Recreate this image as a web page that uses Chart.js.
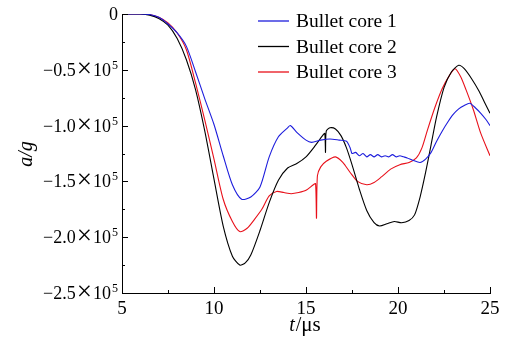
<!DOCTYPE html>
<html>
<head>
<meta charset="utf-8">
<script src="https://cdn.jsdelivr.net/npm/chart.js@4/dist/chart.umd.min.js"></script>
<style>
  html, body { margin: 0; padding: 0; background: #fff; }
  #wrap { width: 508px; height: 339px; position: relative; }
</style>
</head>
<body>
<div id="wrap"><canvas id="chart"></canvas></div>
<script>
// Datos (a en unidades de 10^5 g, t en µs)
const etiquetas = ['Bullet core 1', 'Bullet core 2', 'Bullet core 3'];
const colores = ['#1c1cdc', '#000000', '#e8101a'];

const nucleo1_t = [5, 6, 6.5, 7, 7.5, 8, 8.5, 9, 9.5, 10, 10.5, 11, 11.5, 12, 12.5, 13, 13.5, 14, 14.15, 14.5, 15, 15.3, 15.8, 16.3, 16.8, 17.2, 17.4, 17.5, 17.7, 17.9, 18.1, 18.3, 18.5, 18.7, 18.9, 19.1, 19.3, 19.5, 19.7, 19.9, 20.1, 20.3, 20.5, 20.8, 21.2, 21.5, 21.8, 22.1, 22.4, 22.7, 23, 23.3, 23.6, 23.9, 24.2, 24.5, 24.8, 25];
const nucleo1_a = [0, 0, -0.005, -0.03, -0.09, -0.17, -0.29, -0.52, -0.76, -0.99, -1.27, -1.53, -1.66, -1.64, -1.55, -1.28, -1.1, -1.02, -1.0, -1.06, -1.13, -1.15, -1.13, -1.12, -1.13, -1.14, -1.2, -1.25, -1.24, -1.27, -1.25, -1.28, -1.26, -1.28, -1.26, -1.28, -1.27, -1.28, -1.26, -1.28, -1.27, -1.28, -1.29, -1.31, -1.33, -1.3, -1.24, -1.14, -1.05, -0.97, -0.9, -0.85, -0.82, -0.8, -0.84, -0.89, -0.95, -1.0];

const nucleo2_t = [5, 6, 6.5, 7, 7.5, 8, 8.5, 9, 9.5, 10, 10.5, 11, 11.4, 11.7, 12, 12.5, 13, 13.5, 14, 14.5, 15, 15.5, 15.9, 16.02, 16.06, 16.1, 16.3, 16.6, 16.9, 17.2, 17.5, 17.9, 18.3, 18.7, 19, 19.4, 19.8, 20.2, 20.6, 20.9, 21.2, 21.5, 21.8, 22.1, 22.5, 22.9, 23.3, 23.6, 24, 24.4, 24.7, 25];
const nucleo2_a = [0, 0, -0.01, -0.04, -0.1, -0.22, -0.41, -0.68, -1.05, -1.48, -1.9, -2.17, -2.25, -2.23, -2.16, -1.94, -1.69, -1.49, -1.38, -1.34, -1.28, -1.18, -1.09, -1.07, -1.24, -1.05, -1.02, -1.03, -1.09, -1.2, -1.35, -1.57, -1.76, -1.87, -1.9, -1.88, -1.86, -1.87, -1.85, -1.8, -1.64, -1.42, -1.17, -0.92, -0.66, -0.52, -0.46, -0.49, -0.58, -0.69, -0.79, -0.89];

const nucleo3_t = [5, 6, 6.5, 7, 7.5, 8, 8.5, 9, 9.5, 10, 10.5, 11, 11.4, 11.8, 12.2, 12.6, 13, 13.4, 13.8, 14.2, 14.6, 15, 15.4, 15.52, 15.57, 15.62, 15.8, 16.1, 16.6, 17, 17.4, 17.8, 18.3, 18.7, 19.1, 19.6, 20.1, 20.6, 21, 21.3, 21.6, 22, 22.4, 22.8, 23.1, 23.4, 23.7, 24.1, 24.5, 25];
const nucleo3_a = [0, 0, -0.005, -0.03, -0.08, -0.17, -0.32, -0.62, -0.95, -1.3, -1.66, -1.86, -1.95, -1.92, -1.84, -1.75, -1.63, -1.59, -1.6, -1.61, -1.6, -1.58, -1.53, -1.52, -1.83, -1.45, -1.37, -1.32, -1.28, -1.33, -1.42, -1.5, -1.53, -1.51, -1.46, -1.39, -1.35, -1.33, -1.29, -1.2, -1.04, -0.84, -0.67, -0.55, -0.49, -0.56, -0.68, -0.86, -1.07, -1.27];

const ticksX = [5, 10, 15, 20, 25];
const ticksY = [0, -0.5, -1.0, -1.5, -2.0, -2.5];

const fuente = "'Liberation Serif'";

function puntos(t, a) {
    return t.map((v, i) => ({ x: v, y: a[i] }));
}

// Etiqueta del eje Y tipo "−0.5×10⁵", dibujada por piezas y alineada a la derecha
function etiquetaY(ctx, v, xDer, y) {
    const piezas = v === 0
        ? [['0', 18, 0, 0]]
        : [['−', 18, 0, 0], [Math.abs(v).toFixed(1), 18, 0, 1], ['×', 27, 1, 1], ['10', 18, 0, 1], ['5', 12, -7, 0]];
    let total = 0;
    piezas.forEach(p => { ctx.font = p[1] + 'px ' + fuente; total += ctx.measureText(p[0]).width + p[3]; });
    let x = xDer - total;
    piezas.forEach(p => {
        ctx.font = p[1] + 'px ' + fuente;
        ctx.fillText(p[0], x, y + 6 + p[2]);
        x += ctx.measureText(p[0]).width + p[3];
    });
}

// Marcas hacia dentro, etiquetas Y, leyenda interna y títulos de ejes
const pluginEjes = {
    id: 'ejes',
    afterDraw(chart) {
        const ctx = chart.ctx;
        const { left, bottom } = chart.chartArea;
        const sx = chart.scales.x, sy = chart.scales.y;
        ctx.save();
        ctx.strokeStyle = '#000';
        ctx.lineWidth = 1;
        ctx.beginPath();
        for (let v = 5; v <= 25; v += 2.5) {
            const px = Math.round(sx.getPixelForValue(v)) + 0.5;
            const len = (v % 5 === 0) ? 6 : 3;
            ctx.moveTo(px, bottom);
            ctx.lineTo(px, bottom - len);
        }
        for (let v = 0; v >= -2.5; v -= 0.25) {
            const py = Math.round(sy.getPixelForValue(v)) + 0.5;
            const len = (Math.abs(v * 2 - Math.round(v * 2)) < 1e-6) ? 6 : 3;
            ctx.moveTo(left, py);
            ctx.lineTo(left + len, py);
        }
        ctx.stroke();

        ctx.fillStyle = '#000';
        ctx.textAlign = 'left';
        ctx.textBaseline = 'alphabetic';
        ticksY.forEach(v => etiquetaY(ctx, v, 118, sy.getPixelForValue(v)));

        // Leyenda
        ctx.font = '19.5px ' + fuente;
        ctx.textBaseline = 'middle';
        chart.data.datasets.forEach((ds, i) => {
            const y = 21 + i * 25.5;
            ctx.strokeStyle = ds.borderColor;
            ctx.lineWidth = 1.3;
            ctx.beginPath();
            ctx.moveTo(258, y);
            ctx.lineTo(289, y);
            ctx.stroke();
            ctx.fillStyle = '#000';
            ctx.fillText(ds.label, 296, y + 1);
        });

        // Título eje X: t/μs
        ctx.textBaseline = 'alphabetic';
        ctx.font = 'italic 20px ' + fuente;
        const tW = ctx.measureText('t').width + 1;
        ctx.font = '20px ' + fuente;
        const bW = ctx.measureText('/').width;
        ctx.font = '21px ' + fuente;
        const restoW = ctx.measureText('μs').width;
        let x0 = 305 - (tW + bW + restoW) / 2;
        ctx.font = 'italic 20px ' + fuente;
        ctx.fillText('t', x0, 331);
        ctx.font = '20px ' + fuente;
        ctx.fillText('/', x0 + tW, 331);
        ctx.font = '21px ' + fuente;
        ctx.fillText('μs', x0 + tW + bW, 331);

        // Título eje Y: a/g
        ctx.translate(32, 154);
        ctx.rotate(-Math.PI / 2);
        ctx.font = 'italic 20px ' + fuente;
        ctx.textAlign = 'center';
        ctx.fillText('a/g', 0, 0);
        ctx.restore();
    }
};

const datasets = [
    [nucleo1_t, nucleo1_a],
    [nucleo2_t, nucleo2_a],
    [nucleo3_t, nucleo3_a]
].map(([t, a], i) => ({
    label: etiquetas[i],
    data: puntos(t, a),
    borderColor: colores[i],
    borderWidth: 1.1,
    pointRadius: 0,
    tension: 0.25,
    fill: false
}));

new Chart(document.getElementById('chart'), {
    type: 'line',
    data: { datasets },
    options: {
        responsive: true,
        maintainAspectRatio: false,
        animation: false,
        layout: { padding: { top: 14, right: 18, left: 0, bottom: 0 } },
        plugins: { legend: { display: false }, tooltip: { enabled: false } },
        scales: {
            x: {
                type: 'linear',
                min: 5, max: 25,
                afterBuildTicks: s => { s.ticks = ticksX.map(v => ({ value: v })); },
                afterFit: s => { s.height = 46; },
                grid: { drawOnChartArea: false, drawTicks: false },
                border: { display: true, color: '#000', width: 1 },
                ticks: { color: '#000', padding: 5, maxRotation: 0, font: { family: fuente, size: 19 } }
            },
            y: {
                type: 'linear',
                min: -2.5, max: 0,
                afterBuildTicks: s => { s.ticks = ticksY.map(v => ({ value: v })); },
                afterFit: s => { s.width = 122; },
                grid: { drawOnChartArea: false, drawTicks: false },
                border: { display: true, color: '#000', width: 1 },
                ticks: { display: false }
            }
        }
    },
    plugins: [pluginEjes]
});
</script>
</body>
</html>
